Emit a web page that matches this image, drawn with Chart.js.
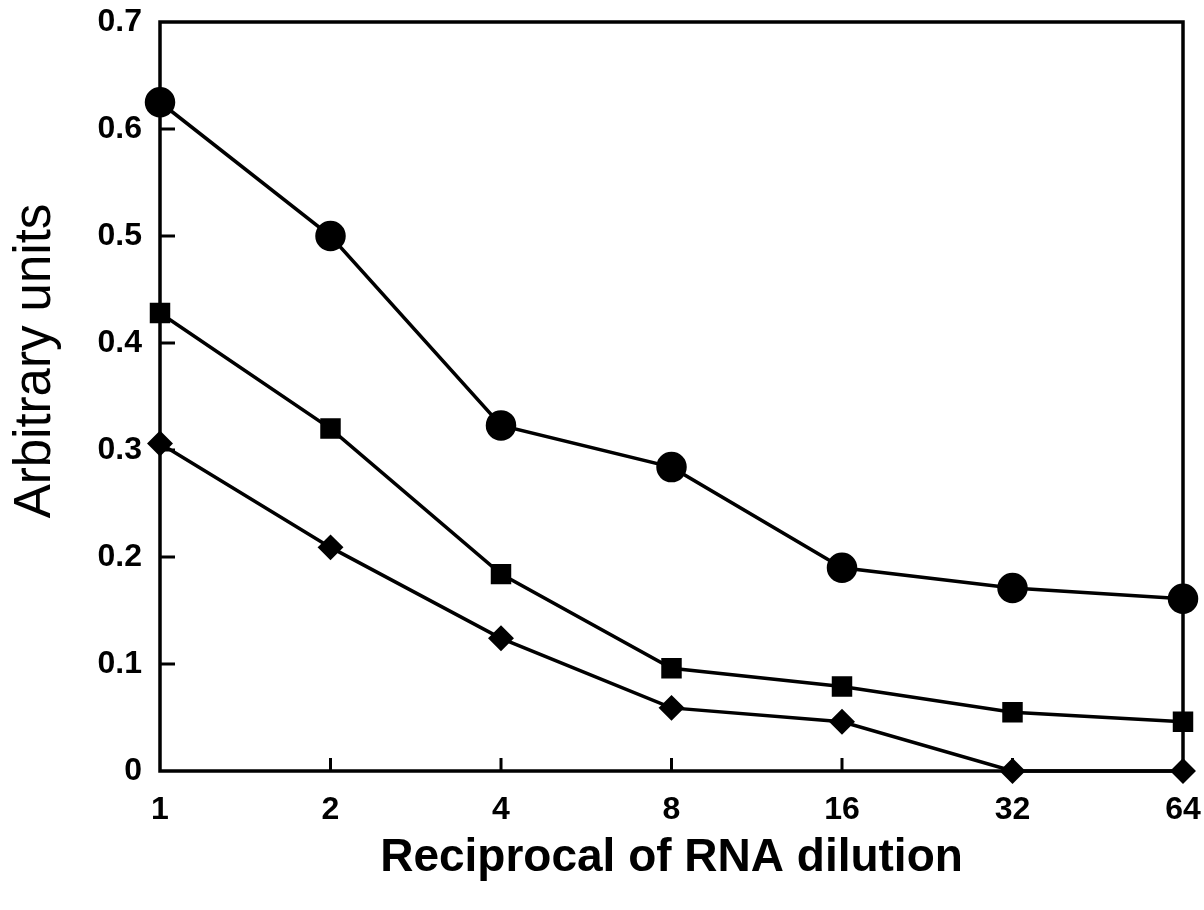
<!DOCTYPE html>
<html>
<head>
<meta charset="utf-8">
<script src="https://cdn.jsdelivr.net/npm/chart.js@4/dist/chart.umd.min.js"></script>
<style>
  html, body { margin: 0; padding: 0; background: #fff; }
  #wrap { width: 1204px; height: 910px; }
</style>
</head>
<body>
<div id="wrap"><canvas id="dilutionChart" width="1204" height="910"></canvas></div>
<script>
// reciprocal dilution steps (equally spaced, two-fold)
const dilutions = ["1", "2", "4", "8", "16", "32", "64"];
const circleSeries = [0.625, 0.50, 0.323, 0.284, 0.19, 0.171, 0.161];
const squareSeries = [0.428, 0.32, 0.184, 0.096, 0.079, 0.055, 0.046];
const diamondSeries = [0.306, 0.209, 0.124, 0.059, 0.046, 0.0, 0.0];
const yTicks = [0, 0.1, 0.2, 0.3, 0.4, 0.5, 0.6, 0.7];
const yTitle = "Arbitrary units";

const ink = "#000";
const fontFamily = "Liberation Sans, Arial, sans-serif";

// frame around plot area, short inward tick marks, rotated y title
const frameTicks = {
  id: "frameTicks",
  afterDatasetsDraw(chart) {
    const { ctx, chartArea: a, scales } = chart;
    ctx.save();
    ctx.strokeStyle = ink;
    ctx.lineWidth = 3.5;
    ctx.strokeRect(a.left, a.top, a.right - a.left, a.bottom - a.top);
    ctx.lineWidth = 3;
    ctx.beginPath();
    scales.y.ticks.forEach((t, i) => {
      const py = scales.y.getPixelForTick(i);
      if (py <= a.top + 2 || py >= a.bottom - 2) return;
      ctx.moveTo(a.left, py);
      ctx.lineTo(a.left + 15, py);
    });
    scales.x.ticks.forEach((t, i) => {
      const px = scales.x.getPixelForTick(i);
      if (px <= a.left + 2 || px >= a.right - 2) return;
      ctx.moveTo(px, a.bottom);
      ctx.lineTo(px, a.bottom - 13);
    });
    ctx.stroke();

    // y title sits a little above the plot's middle
    ctx.translate(36, 361);
    ctx.rotate(-Math.PI / 2);
    ctx.fillStyle = ink;
    ctx.font = "51px " + fontFamily;
    ctx.textAlign = "center";
    ctx.textBaseline = "middle";
    ctx.fillText(yTitle, 0, 0);
    ctx.restore();
  }
};

const lineStyle = {
  borderColor: ink,
  backgroundColor: ink,
  pointBackgroundColor: ink,
  pointBorderColor: ink,
  borderWidth: 3.5,
  fill: false,
  tension: 0,
  clip: false
};

const ctx = document.getElementById("dilutionChart").getContext("2d");
new Chart(ctx, {
  type: "line",
  data: {
    labels: dilutions,
    datasets: [
      { ...lineStyle, label: "circles", data: circleSeries, pointStyle: "circle", pointRadius: 13.5 },
      { ...lineStyle, label: "squares", data: squareSeries, pointStyle: "rect", pointRadius: 12 },
      { ...lineStyle, label: "diamonds", data: diamondSeries, pointStyle: "rectRot", pointRadius: 10.5 }
    ]
  },
  plugins: [frameTicks],
  options: {
    responsive: false,
    animation: false,
    events: [],
    layout: { padding: { top: 22, right: 21, bottom: 10, left: 10 } },
    plugins: {
      legend: { display: false },
      tooltip: { enabled: false }
    },
    scales: {
      x: {
        type: "category",
        offset: false,
        grid: { display: false },
        border: { display: false },
        ticks: {
          color: ink,
          padding: 12,
          maxRotation: 0,
          font: { family: fontFamily, size: 32, weight: "bold" }
        },
        title: {
          display: true,
          text: "Reciprocal of RNA dilution",
          color: ink,
          padding: { top: 14, bottom: 14 },
          font: { family: fontFamily, size: 46, weight: "bold" }
        },
        afterFit(scale) {
          scale.height = 129;
          scale.paddingLeft = 0;
          scale.paddingRight = 0;
        }
      },
      y: {
        min: 0,
        max: 0.7,
        afterBuildTicks(scale) { scale.ticks = yTicks.map(v => ({ value: v })); },
        grid: { display: false },
        border: { display: false },
        ticks: {
          color: ink,
          padding: 10,
          font: { family: fontFamily, size: 32, weight: "bold" },
          callback: v => (v === 0 ? "0" : v.toFixed(1))
        },
        afterFit(scale) {
          scale.width = 150;
          scale.paddingTop = 0;
          scale.paddingBottom = 0;
        }
      }
    }
  }
});
</script>
</body>
</html>
